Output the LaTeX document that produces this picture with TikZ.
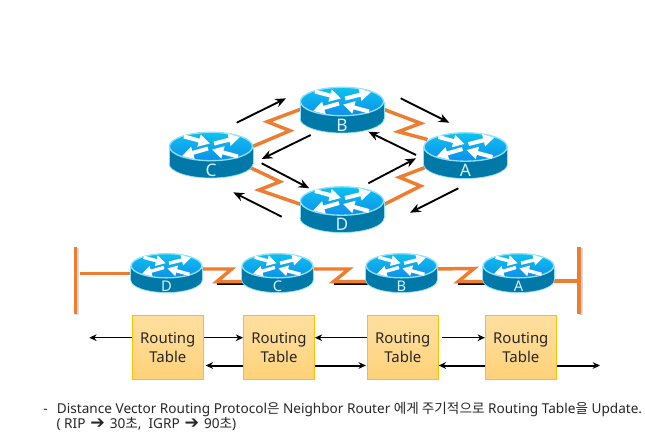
\documentclass[tikz,border=0pt]{standalone}
\usepackage{fontspec}
\setmainfont{Noto Sans}
\newfontfamily\krfont{Noto Sans CJK KR}
\newfontfamily\symfont{DejaVu Sans}
\usetikzlibrary{arrows.meta,calc}
\definecolor{serialc}{HTML}{ED7D31}
\definecolor{topc}{HTML}{12A8E8}
\definecolor{bodyc}{HTML}{0078A8}
\definecolor{rimc}{HTML}{8FE0FA}
\definecolor{labelc}{HTML}{D8EEF8}
\definecolor{boxline}{HTML}{FFC000}
\definecolor{boxtop}{HTML}{FFDFA0}
\definecolor{boxbot}{HTML}{FFD27A}
\tikzset{
  routerbox/.style={minimum width=84*#1*0.75pt,minimum height=46*#1*0.75pt,inner sep=0pt},
  serial/.style={draw=serialc,line width=2.6pt,line join=miter},
  serialsh/.style={draw=black,line width=2.4pt,transform canvas={yshift=-1.2pt}},
  wall/.style={draw=serialc,line width=2.7pt,preaction={draw=black!15,line width=3pt,transform canvas={xshift=1.5pt,yshift=-1pt}}},
  flow/.style={draw=black,line width=1.4pt,-{Stealth[length=8pt,width=6.5pt]}},
  upd/.style={draw=black,line width=1.1pt,-{Stealth[length=5.5pt,width=5pt]}},
  updb/.style={draw=black,line width=1.5pt,-{Stealth[length=5.5pt,width=5pt]}},
  rtable/.style={draw=boxline,line width=0.8pt,top color=boxtop,bottom color=boxbot,
     minimum width=53pt,minimum height=48pt,inner sep=0pt,align=center,
     font=\fontsize{11.2}{14.5}\selectfont,text=black!85},
  rarrow/.style={draw=white,line width=#1*3pt,-{Triangle[length=8.5pt,width=9pt,scale=#1]}},
}
\newcommand{\routerart}[3]{%
  \begin{scope}[shift={(#1.center)},scale=#2]
    \fill[bodyc,draw=rimc,line width=0.5pt] (0,8.5) ellipse[x radius=42,y radius=14.5];
    \fill[bodyc] (-42,-8.5) rectangle (42,8.5);
    \draw[rimc,line width=0.5pt] (-42,-8.5) -- (-42,8.5) (42,-8.5) -- (42,8.5);
    \fill[top color=topc!70!cyan,bottom color=topc!85!blue,draw=rimc,line width=1pt] (0,-8.5) ellipse[x radius=41.6,y radius=14.2];
    \begin{scope}[shift={(0,-8.5)}]
      \draw[rarrow=#2] (-27,-10) -- (-1,-3);
      \draw[rarrow=#2] (3,-3) -- (29,-9.5);
      \draw[rarrow=#2] (-3,2) -- (-29,9.5);
      \draw[rarrow=#2] (27,10) -- (1,3);
    \end{scope}
  \end{scope}
  \pgfmathsetmacro{\rlsize}{#2*13}%
  \node[text=labelc,inner sep=0pt,font=\fontsize{\rlsize}{13}\selectfont] (#1label) at ($(#1.center)+(0,#2*15)$) {#3};
}
\newcommand{\bigarrow}{\hspace{1pt}{\symfont\fontsize{13}{11}\selectfont ➔}\hspace{1pt}}
\begin{document}
\begin{tikzpicture}[x=0.75pt,y=-0.75pt]
\useasboundingbox[fill=white] (0,0) rectangle (645,439);
% top ring
\node[routerbox=1] (C) at (211,155) {};
\node[routerbox=1] (B) at (342,110) {};
\node[routerbox=1] (A) at (465.5,155.5) {};
\node[routerbox=1] (D) at (342,209.5) {};
\draw[serial] ($(C)+(38,-7)$) -- (290,130.7) -- (267.3,121.7) -- ($(B)+(-38,-2)$);
\draw[serial] ($(B)+(38,-2)$) -- (420.7,123.3) -- (398.3,131.7) -- ($(A)+(-38,-16)$);
\draw[serial] ($(C)+(38,12)$) -- (280,181.7) -- (259,190) -- ($(D)+(-38,-4)$);
\draw[serial] ($(D)+(38,-3)$) -- (420.7,186) -- (399.3,177.3) -- ($(A)+(-38,11)$);
\routerart{C}{1}{C}
\routerart{B}{1}{B}
\routerart{A}{1}{A}
\routerart{D}{1}{D}
\draw[flow] (236.7,122.7) coordinate (f1a) -- (286,98.3) coordinate (f1b);
\draw[flow] (400.7,98.3) coordinate (f2a) -- (449.3,122.7) coordinate (f2b);
\draw[flow] (310.7,135) coordinate (f3a) -- (261.7,159) coordinate (f3b);
\draw[flow] (416,155) coordinate (f4a) -- (368.3,131.7) coordinate (f4b);
\draw[flow] (261.7,163.3) coordinate (f5a) -- (309.3,188.3) coordinate (f5b);
\draw[flow] (368.3,183.3) coordinate (f6a) -- (416,158.3) coordinate (f6b);
\draw[flow] (458.3,188.3) coordinate (f7a) -- (410,212.7) coordinate (f7b);
\draw[flow] (281.7,216.7) coordinate (f8a) -- (233.3,192.3) coordinate (f8b);
% bus row
\node[routerbox=0.85] (D2) at (166.5,273) {};
\node[routerbox=0.85] (C2) at (277.5,273) {};
\node[routerbox=0.85] (B2) at (401.5,273) {};
\node[routerbox=0.85] (A2) at (518.5,273) {};
\coordinate (wl) at (80,273.3);
\coordinate (wr) at (578.7,281);
\draw[wall] (75.3,246.5) -- (75.3,313.5);
\draw[wall] (578.7,246.5) -- (578.7,313.5);
\draw[serial] (wl) -- (D2.center |- wl);
\draw[serial] (A2.center |- wr) -- (wr);
\draw[serialsh] (216.7,281.7) -- ($(C2)+(-30,8.7)$);
\draw[serialsh] (333.5,281.7) -- ($(B2)+(-30,8.7)$);
\draw[serialsh] (458,281.7) -- ($(A2)+(-30,8.7)$);
\draw[serial] ($(D2)+(30,-4)$) -- (231.7,269) -- (216.7,281.7) -- ($(C2)+(-30,8.7)$);
\draw[serial] ($(C2)+(30,-4)$) -- (349,269) -- (333.5,281.7) -- ($(B2)+(-30,8.7)$);
\draw[serial] ($(B2)+(30,-4)$) -- (474,268.5) -- (458,281.7) -- ($(A2)+(-30,8.7)$);
\routerart{D2}{0.85}{D}
\routerart{C2}{0.85}{C}
\routerart{B2}{0.85}{B}
\routerart{A2}{0.85}{A}
% tables
\node[rtable] (t1) at (167.8,347.3) {\raisebox{-1pt}{Routing}\\\raisebox{-1pt}{Table}};
\node[rtable] (t2) at (279,347.3) {\raisebox{-1pt}{Routing}\\\raisebox{-1pt}{Table}};
\node[rtable] (t3) at (402.8,347.3) {\raisebox{-1pt}{Routing}\\\raisebox{-1pt}{Table}};
\node[rtable] (t4) at (520.8,347.3) {\raisebox{-1pt}{Routing}\\\raisebox{-1pt}{Table}};
\coordinate (el) at (89.3,337.7);
\coordinate (er) at (600,365.5);
\draw[upd] (t1.west |- el) -- (el);
\draw[upd] (t1.east |- el) -- (t2.west |- el);
\draw[upd] (t3.west |- el) -- (t2.east |- el);
\draw[upd] ($(t3.east |- el)+(3,0)$) -- (t4.west |- el);
\draw[updb] (t2.west |- er) -- ($(t1.east |- er)+(2,0)$);
\draw[updb] (t2.east |- er) -- ($(t3.west |- er)+(-1,0)$);
\draw[updb] (t4.west |- er) -- (t3.east |- er);
\draw[updb] (t4.east |- er) -- (er);
% caption
\node[anchor=north west,inner sep=0pt,align=left,font=\fontsize{10.2}{11.2}\selectfont,text=black!85] (note) at (43,402)
 {-\hspace{7pt}Distance Vector Routing Protocol{\krfont 은} Neighbor Router {\krfont 에게 주기적으로} Routing Table{\krfont 을} Update.\\
  \hspace{10pt}( RIP \bigarrow{} 30{\krfont 초},\ \ IGRP \bigarrow{} 90{\krfont 초})};
\end{tikzpicture}
\end{document}
